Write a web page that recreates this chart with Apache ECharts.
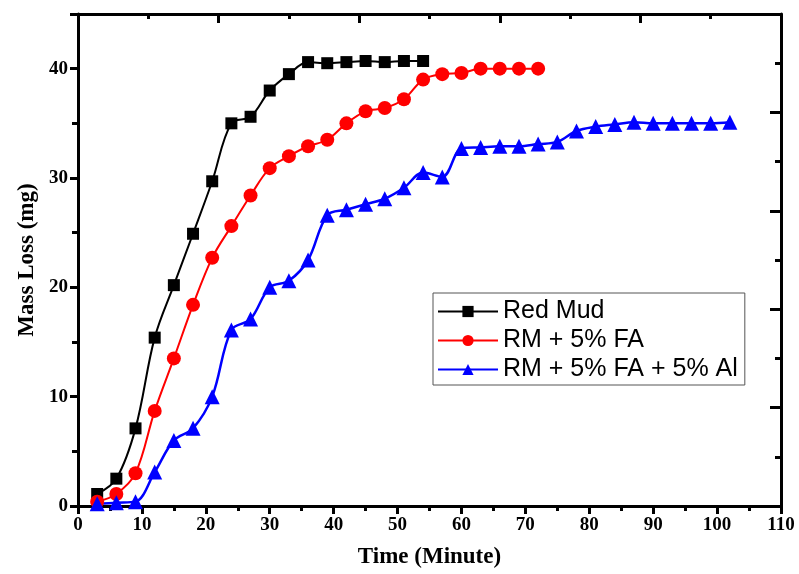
<!DOCTYPE html>
<html>
<head>
<meta charset="utf-8">
<title>Mass Loss</title>
<script src="https://cdn.jsdelivr.net/npm/echarts@6/dist/echarts.min.js"></script>
<style>
  html, body { margin: 0; padding: 0; background: #fff; }
  #chart { width: 799px; height: 574px; }
</style>
</head>
<body>
<div id="chart"></div>
<script>
// 数据
var time1 = [3, 6, 9, 12, 15, 18, 21, 24, 27, 30, 33, 36, 39, 42, 45, 48, 51, 54]
var redMud = [1.1, 2.5, 7.1, 15.4, 20.2, 24.9, 29.7, 35.0, 35.6, 38.0, 39.5, 40.6, 40.5, 40.6, 40.7, 40.6, 40.7, 40.7]

var time2 = [3, 6, 9, 12, 15, 18, 21, 24, 27, 30, 33, 36, 39, 42, 45, 48, 51, 54, 57, 60, 63, 66, 69, 72]
var rmFa = [0.4, 1.1, 3.0, 8.7, 13.5, 18.4, 22.7, 25.6, 28.4, 30.9, 32.0, 32.9, 33.5, 35.0, 36.1, 36.4, 37.2, 39.0, 39.5, 39.6, 40.0, 40.0, 40.0, 40.0]

var time3 = [3, 6, 9, 12, 15, 18, 21, 24, 27, 30, 33, 36, 39, 42, 45, 48, 51, 54, 57, 60, 63, 66, 69, 72, 75, 78, 81, 84, 87, 90, 93, 96, 99, 102]
var rmFaAl = [0.2, 0.3, 0.4, 3.1, 6.0, 7.1, 10.0, 16.1, 17.1, 20.0, 20.6, 22.5, 26.6, 27.1, 27.6, 28.1, 29.1, 30.5, 30.1, 32.7, 32.8, 32.9, 32.9, 33.1, 33.3, 34.3, 34.7, 34.9, 35.1, 35.0, 35.0, 35.0, 35.0, 35.1]

var seriesNames = ['Red Mud', 'RM + 5% FA', 'RM + 5% FA + 5% Al']

function pairs(xs, ys) {
  return xs.map(function(x, i) { return [x, ys[i]] })
}

var myChart = echarts.init(document.getElementById('chart'))

var serif = 'Liberation Serif'
var axisLine = { show: true, onZero: false, lineStyle: { color: '#000', width: 3 } }

var option = {
  backgroundColor: '#fff',
  animation: false,
  grid: { left: 78, right: 18, top: 14, bottom: 66 },
  legend: {
    data: seriesNames,
    orient: 'vertical',
    left: 433,
    top: 293,
    itemWidth: 60,
    itemHeight: 14,
    itemGap: 4,
    padding: [6, 7, 3, 4],
    borderColor: '#555',
    borderWidth: 1,
    textStyle: { fontFamily: 'Liberation Sans', fontSize: 25, color: '#000', lineHeight: 23 }
  },
  xAxis: [
    {
      type: 'value', min: 0, max: 110, interval: 10,
      name: 'Time (Minute)', nameLocation: 'middle', nameGap: 40,
      nameTextStyle: { fontFamily: serif, fontWeight: 'bold', fontSize: 23, color: '#000' },
      axisLine: axisLine,
      axisTick: { show: true, inside: false, length: 8, lineStyle: { width: 3, color: '#000' } },
      minorTick: { show: true, splitNumber: 2, length: 5, lineStyle: { width: 3, color: '#000' } },
      axisLabel: { fontFamily: serif, fontWeight: 'bold', fontSize: 19, color: '#000', margin: 10 },
      splitLine: { show: false }
    },
    {
      type: 'value', position: 'top', min: 0, max: 110, interval: 22,
      axisLine: axisLine,
      axisTick: { show: true, inside: true, length: 9, lineStyle: { width: 3, color: '#000' } },
      minorTick: { show: true, splitNumber: 2, length: 5, lineStyle: { width: 3, color: '#000' } },
      axisLabel: { show: false },
      splitLine: { show: false }
    }
  ],
  yAxis: [
    {
      type: 'value', min: 0, max: 45, interval: 10,
      name: 'Mass Loss (mg)', nameLocation: 'middle', nameGap: 37,
      nameTextStyle: { fontFamily: serif, fontWeight: 'bold', fontSize: 23, color: '#000' },
      axisLine: axisLine,
      axisTick: { show: true, inside: false, length: 8, lineStyle: { width: 3, color: '#000' } },
      minorTick: { show: true, splitNumber: 2, length: 6, lineStyle: { width: 3, color: '#000' } },
      axisLabel: {
        fontFamily: serif, fontWeight: 'bold', fontSize: 19, color: '#000', margin: 10,
        showMaxLabel: false,
        formatter: function(v) { return v % 10 === 0 ? v : '' }
      },
      splitLine: { show: false }
    },
    {
      type: 'value', position: 'right', min: 0, max: 45, interval: 9,
      axisLine: axisLine,
      axisTick: { show: true, inside: true, length: 11, lineStyle: { width: 3, color: '#000' } },
      minorTick: { show: true, splitNumber: 2, length: 6, lineStyle: { width: 3, color: '#000' } },
      axisLabel: { show: false },
      splitLine: { show: false }
    }
  ],
  series: [
    {
      name: seriesNames[0], type: 'line', smooth: 0.35,
      data: pairs(time1, redMud),
      symbol: 'rect', symbolSize: 12,
      itemStyle: { color: '#000' },
      lineStyle: { color: '#000', width: 2 }
    },
    {
      name: seriesNames[1], type: 'line', smooth: 0.35,
      data: pairs(time2, rmFa),
      symbol: 'circle', symbolSize: 14,
      itemStyle: { color: '#ff0000' },
      lineStyle: { color: '#ff0000', width: 2 }
    },
    {
      name: seriesNames[2], type: 'line', smooth: 0.35,
      data: pairs(time3, rmFaAl),
      symbol: 'triangle', symbolSize: 15,
      itemStyle: { color: '#0000ff' },
      lineStyle: { color: '#0000ff', width: 2.5 }
    }
  ]
}

myChart.setOption(option)
</script>
</body>
</html>
